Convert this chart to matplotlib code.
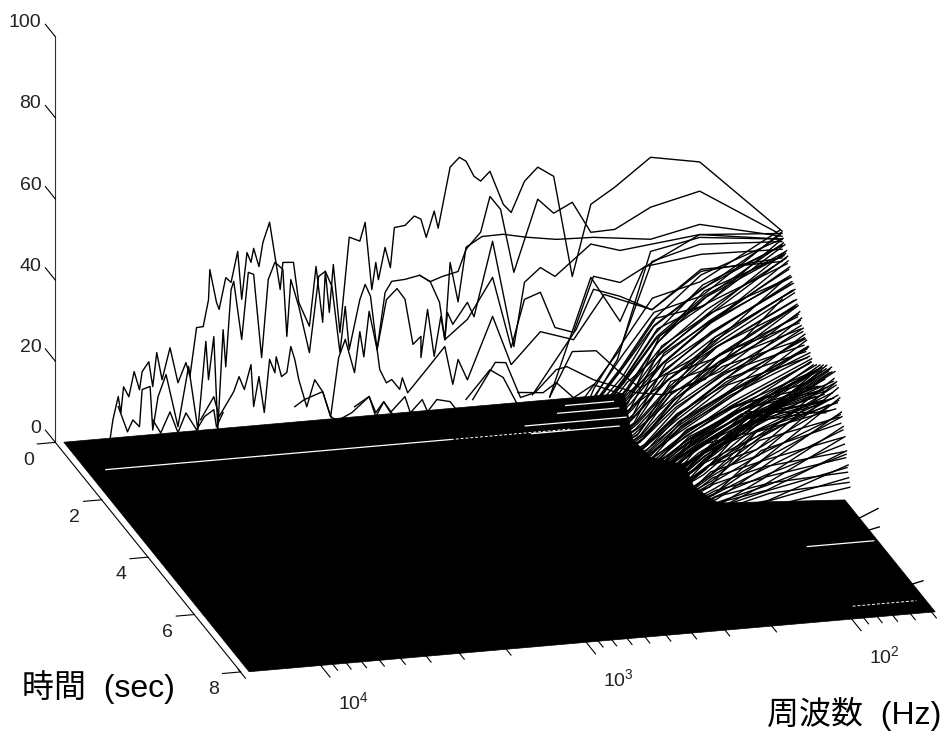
import numpy as np
import matplotlib
matplotlib.use('Agg')
import matplotlib.pyplot as plt
from mpl_toolkits.mplot3d import proj3d
from mpl_toolkits.mplot3d.art3d import Poly3DCollection

plt.rcParams['font.family'] = ['Liberation Sans', 'Noto Sans CJK JP']
plt.rcParams['mathtext.default'] = 'regular'

# axis ranges and ticks
time_ticks = [0, 2, 4, 6, 8]
level_ticks = [0, 20, 40, 60, 80, 100]
major_freqs = [100, 1000, 10000]
minor_freqs = [50, 60, 70, 80, 90, 200, 300, 400, 500, 600, 700, 800, 900,
               2000, 3000, 4000, 5000, 6000, 7000, 8000, 9000, 20000]

# outline of the solid floor (log10 freq, sec)
floor_logf = [4.27, 2.16, 2.26, 2.25, 2.15, 2.18, 2.14, 1.686, 1.686, 4.27]
floor_time = [0, 0, 1.51, 2.15, 2.5, 3.25, 3.84, 4.1, 8, 8]

# gaps in the floor (sec, log10 freq from, log10 freq to)
gap_time = [1.03, 1.03, 0.48, 0.8, 1.07, 0.25, 5.53]
gap_from = [4.20, 3.60, 2.45, 2.60, 2.60, 2.40, 1.95]
gap_to = [3.60, 2.90, 2.22, 2.22, 2.27, 2.22, 1.70]
dotted_gap_time = [7.6, 1.03]
dotted_gap_from = [1.96, 2.90]
dotted_gap_to = [1.72, 2.45]

# loud slices near the onset
curve_time = 1.34
curve_a_logf = [4.21, 4.20, 4.18, 4.17, 4.16, 4.14, 4.12, 4.10, 4.09, 4.065, 4.05, 4.035, 4.015, 3.985, 3.955, 3.925,
                3.91, 3.885, 3.86, 3.84, 3.835, 3.81, 3.80, 3.775, 3.755, 3.73, 3.715, 3.695, 3.68, 3.67, 3.65, 3.635,
                3.61, 3.57, 3.56, 3.52, 3.50, 3.46, 3.435, 3.41, 3.40, 3.385, 3.37, 3.345, 3.31, 3.27, 3.25, 3.225,
                3.21, 3.20, 3.175, 3.155, 3.14, 3.10, 3.065, 3.04, 3.02, 2.99, 2.975, 2.93, 2.895, 2.87, 2.84, 2.815,
                2.78, 2.73, 2.70, 2.65, 2.60, 2.54, 2.47, 2.40, 2.31, 2.175, 1.99, 1.68]
curve_a_level = [10.1, 14.5, 20.1, 16, 22.4, 19.8, 25.9, 21.3, 25.7, 28, 21.8, 30.1, 23.3, 31, 22.2, 27,
                 23.5, 35.4, 35.5, 42, 49.4, 41.2, 39.4, 47.1, 45.8, 53.3, 41.4, 52.8, 50.3, 53.7, 49.1, 55,
                 59.8, 43, 49.6, 49.4, 39.4, 33.3, 47.9, 34, 46.5, 36.3, 48, 31.1, 54.4, 53.2, 57.7, 41,
                 47.6, 43.3, 51.1, 46, 55.8, 56.1, 58.2, 57.3, 52.7, 59, 54.7, 69.5, 71.7, 70.6, 66.7, 65.4,
                 67.6, 59.2, 57, 64.4, 67.6, 65, 39.9, 57.3, 61, 67.6, 65.4, 46.6]

curve_b_logf = [4.18, 4.145, 4.125, 4.10, 4.09, 4.06, 4.05, 4.03, 4.00, 3.955, 3.915, 3.88, 3.85, 3.84, 3.82, 3.805,
                3.785, 3.775, 3.755, 3.745, 3.715, 3.69, 3.67, 3.64, 3.615, 3.59, 3.56, 3.545, 3.53, 3.50, 3.46, 3.425,
                3.40, 3.375, 3.345, 3.325, 3.31, 3.27, 3.25, 3.23, 3.205, 3.175, 3.15, 3.10, 3.045, 3.005, 2.97, 2.95,
                2.93, 2.90, 2.87, 2.81, 2.73, 2.645, 2.53, 2.39, 2.175, 1.99, 1.68]
curve_b_level = [17.6, 11.2, 14, 12.2, 21.3, 21.9, 11.1, 19.2, 24.5, 11.4, 26, 10.2, 31.8, 22.3, 32.8, 9.8,
                 34.3, 25.1, 44, 46, 31.5, 47.9, 47.3, 26.6, 45.7, 49.8, 47.9, 31.3, 45.2, 38.4, 26.8, 45.4,
                 46.5, 42.6, 26.2, 37.4, 26.7, 38.8, 42.4, 39.4, 26.1, 40, 42.6, 42.8, 43.5, 41.7, 36.4, 27.1,
                 46, 36.1, 49.4, 51.7, 51.8, 50.6, 49.4, 49.1, 47.4, 50, 45.3]

curve_c_logf = [3.205, 3.17, 3.13, 3.10, 3.07, 3.04, 3.04, 3.015, 2.99, 2.965, 2.95, 2.94, 2.92, 2.865, 2.84, 2.77,
                2.69, 2.65, 2.59, 2.535, 2.40, 2.29, 1.99, 1.68]
curve_c_level = [26.1, 38.2, 40.7, 37.9, 26.6, 28.4, 23.2, 34.9, 23.2, 32.9, 27.1, 33.7, 30.7, 35.8, 32.1, 50.3,
                 23.9, 39.5, 42.8, 40.3, 47.5, 45.3, 47.5, 46]

curve_d_logf = [3.045, 3.005, 2.96, 2.90, 2.87, 2.815, 2.78, 2.74, 2.69, 2.60, 2.54, 2.47, 2.40, 2.31, 2.175, 1.99, 1.70]
curve_d_level = [43.5, 41.7, 42.7, 43.6, 48.9, 52.8, 61.4, 58, 42.2, 59.7, 55.9, 58.2, 50.4, 50.6, 55.3, 58.2, 46.4]

curve_e_logf = [2.95, 2.865, 2.77, 2.70, 2.65, 2.59, 2.535, 2.465, 2.39, 2.29, 2.195, 1.985, 1.68]
curve_e_level = [27.1, 31.6, 41.4, 23.7, 35.3, 36.7, 27.7, 26.1, 39.5, 37.4, 40.8, 42.6, 42.1]

curve_f_logf = [3.38, 3.35, 3.325, 3.29, 3.27, 3.255, 3.235, 3.205, 3.195, 3.17, 3.15, 3.12, 3.11, 3.09, 3.01, 2.95, 2.92,
                2.90, 2.865, 2.77, 2.70, 2.59, 2.465, 2.35, 2.17, 1.985, 1.68]
curve_f_level = [10.6, 24.9, 29.3, 20.9, 30.9, 24.6, 35.7, 26.1, 21.1, 17.7, 18.4, 15.8, 18.6, 14.8, 20.8, 25.4, 15.9,
                 21.9, 16.7, 31.8, 19.5, 27, 24.3, 34.8, 30, 38.9, 39.1]

curve_g_logf = [2.845, 2.76, 2.72, 2.665, 2.61, 2.53, 2.49, 2.39, 2.23, 2.125, 1.97, 1.68]
curve_g_level = [11.7, 20.4, 20.1, 11.2, 12.1, 17.3, 17.8, 14, 9.9, 8.8, 11.7, 29.8]

curve_h_logf = [2.555, 2.47, 2.38, 2.29, 2.215, 1.985, 1.67]
curve_h_level = [10.7, 21.4, 21.1, 15.2, 11, 17.9, 34.6]

curve_i_logf = [2.675, 2.58, 2.53, 2.465, 2.39, 2.28]
curve_i_level = [12.5, 11.9, 14.1, 10, 12.8, 9.7]

curve_j_logf = [2.87, 2.81, 2.78, 2.73, 2.68]
curve_j_level = [11.9, 16.4, 18.7, 16.5, 10]

curve_k_logf = [3.87, 3.82, 3.80, 3.745, 3.725, 3.705, 3.68, 3.67, 3.65, 3.63, 3.61, 3.59, 3.585, 3.565, 3.545, 3.53,
                3.515, 3.50, 3.47, 3.44, 3.41, 3.38]
curve_k_level = [12.6, 18, 13, 18.8, 22.4, 19.1, 25.1, 14.7, 22, 13, 26, 22.6, 26.5, 21.5, 22.4, 28.7,
                 25.4, 20.4, 13.5, 20, 16.9, 10.6]

curve_l_logf = [3.29, 3.235, 3.21, 3.18, 3.155, 3.10, 3.08, 3.035, 3.015, 2.98, 2.93, 2.90]
curve_l_level = [12.5, 14.7, 9.6, 13.1, 10.3, 13.9, 9.8, 12.8, 9.7, 12.5, 11.7, 9]

curve_m_logf = [4.05, 4.02, 3.985, 3.955, 3.925, 3.885, 3.855, 3.82, 3.81, 3.785]
curve_m_level = [13.6, 10.2, 15.2, 9.9, 14.6, 10.2, 13.3, 14.8, 10.5, 13.9]

curve_n_logf = [3.515, 3.48, 3.41, 3.38, 3.355, 3.30, 3.235, 3.21, 3.18, 3.15]
curve_n_level = [13.8, 15.3, 16.9, 10.6, 9.4, 11.1, 14.7, 10.6, 13.1, 10.2]

curve_w_logf = [2.555, 2.40, 2.29, 2.20, 1.99, 1.68]
curve_w_level = [10.7, 39.3, 27.8, 40.6, 47.5, 44.6]

curve_x_logf = [2.62, 2.455, 2.39, 2.29, 2.17, 1.985, 1.68]
curve_x_level = [11.6, 26.8, 36.3, 34, 30, 38.4, 40]

curve_y_logf = [2.39, 2.30, 2.175, 1.99, 1.68]
curve_y_level = [9.1, 18.5, 44.4, 46.8, 44.6]

curve_z_logf = [2.43, 2.29, 2.17, 1.99, 1.68]
curve_z_level = [9.3, 20.9, 41.9, 45.1, 44]

# lowest frequency bins, used by the short slices in the dense part
low_bins = [1.69, 1.99, 2.17, 2.29, 2.39, 2.47]
slice_times = [1.36, 1.40, 1.43, 1.47, 1.50, 1.54, 1.58, 1.61, 1.65, 1.68, 1.72, 1.76, 1.79, 1.83, 1.86, 1.90, 1.94, 1.97, 2.01, 2.04,
               2.08, 2.12, 2.15, 2.19, 2.22, 2.26, 2.30, 2.33, 2.37, 2.40, 2.44, 2.48, 2.51, 2.55, 2.58, 2.62, 2.66, 2.69, 2.73, 2.76,
               2.80, 2.84, 2.87, 2.91, 2.94, 2.98, 3.02, 3.05, 3.09, 3.12, 3.16, 3.20, 3.23, 3.27, 3.30, 3.34, 3.38, 3.41, 3.45, 3.48,
               3.52, 3.56, 3.59, 3.63, 3.66, 3.70, 3.74, 3.77, 3.81, 3.84, 3.88, 3.92, 3.95, 3.99, 4.02, 4.06, 4.10, 4.13, 4.17, 4.20,
               4.24, 4.28, 4.31, 4.35, 4.38]
bin1_level = [47, 45, 47, 44, 46, 42, 45, 43, 44, 41, 42, 38, 41, 37, 39, 36, 38, 34, 37, 33,
              35, 31, 34, 30, 33, 29, 32, 27, 30, 26, 29, 25, 28, 24, 27, 23, 26, 24, 25, 22,
              24, 19, 23, 17, 25, 20, 24, 16, 26, 21, 25, 18, 27, 20, 24, 16, 28, 22, 27, 19,
              28, 21, 29, 23, 26, 27, 29, 20, 27, 22, 26, 19, 24, 18, 21, 15, 18, 12, 16, 11,
              13, 8, 10, 6, 5]
bin2_level = [36, 38, 33, 36, 31, 35, 32, 34, 30, 33, 28, 31, 29, 27, 30, 25, 28, 24, 27, 22,
              25, 23, 21, 24, 20, 23, 18, 22, 19, 21, 16, 20, 15, 19, 17, 14, 18, 13, 16, 15,
              12, 16, 14, 11, 15, 13, 16, 12, 14, 17, 13, 15, 12, 16, 14, 18, 13, 17, 15, 12,
              18, 14, 17, 15, 19, 13, 18, 16, 12, 17, 11, 15, 10, 13, 9, 11, 7, 10, 6, 8,
              5, 7, 3, 5, 2]
bin3_level = [33, 28, 30, 25, 29, 23, 27, 24, 21, 26, 19, 24, 20, 18, 23, 16, 21, 17, 14, 19,
              15, 13, 18, 12, 16, 14, 10, 15, 11, 13, 9, 12, 8, 11, 10, 7, 12, 6, 9, 10,
              7, 11, 8, 6, 10, 7, 9, 5, 8, 11, 6, 9, 7, 10, 5, 8, 11, 6, 9, 7,
              10, 5, 9, 11, 7, 8, 10, 6, 9, 4, 8, 6, 7, 3, 6, 4, 5, 3, 4, 2,
              3, 2, 1.5, 2, 1]
bin4_level = [22, 17, 20, 14, 18, 11, 16, 13, 15, 10, 13, 9, 12, 10, 8, 11, 7, 9, 6, 8,
              5, 7, 6, 4, 6, 5, 3, 6, 4, 5, 2.5, 4, 3, 5, 2, 3, 4, 1.5, 3, 2,
              1.5, 3, 2, 1, 3, 2, 1, 2.5, 1.5, 3, 1, 2, 1.5, 2.5, 1, 3, 2, 1, 2.5, 1.5,
              3, 1, 2, 4, 1.5, 3, 2.5, 1, 3, 2, 1, 2.5, 1.5, 1, 2, 1, 1.5, 1, 1, 0.5,
              1, 0.5, 0.5, 0.5, 0.5]
bin5_level = [12, 9, 11, 7, 10, 5, 8, 6, 7, 4, 6, 4, 5, 3, 4, 5, 3, 3.5, 2, 3,
              2, 3, 2, 1, 2, 1.5, 1, 2, 1, 1.5, 1, 1, 0.5, 1.5, 1, 1, 1, 0.5, 1, 0.5,
              0.5, 1, 0.5, 0.5, 1, 0.5, 0.5, 1, 0.5, 1, 0.5, 0.5, 0.5, 1, 0.5, 1, 0.5, 0.5, 1, 0.5,
              1, 0.5, 0.5, 1, 0.5, 1, 0.5, 0.5, 1, 0.5, 0.5, 0.5, 0.5, 0.5, 0.5, 0.5, 0.5, 0.5, 0.5, 0.5,
              0.5, 0.5, 0.5, 0.5, 0.5]

# more slices in between
slice2_times = [1.38, 1.45, 1.52, 1.56, 1.63, 1.70, 1.74, 1.81, 1.88, 1.92, 1.99, 2.06, 2.10, 2.17, 2.24, 2.28, 2.35, 2.42, 2.46, 2.53,
                2.60, 2.64, 2.71, 2.78, 2.82, 2.89, 2.96, 3.00, 3.07, 3.14, 3.18, 3.25, 3.32, 3.36, 3.43, 3.50, 3.54, 3.61, 3.68, 3.72,
                3.79, 3.86, 3.90, 3.97, 4.04, 4.08, 4.15, 4.22, 4.26, 4.33]
slice2_bin1 = [46, 44, 45, 43, 42, 43, 40, 39, 38, 36, 36, 33, 34, 32, 31, 30, 29, 28, 28, 26,
               27, 25, 24, 20, 22, 18, 24, 20, 25, 17, 26, 21, 19, 27, 23, 27, 18, 28, 22, 26,
               26, 24, 23, 20, 20, 17, 14, 12, 9, 7]
slice2_bin2 = [34, 35, 33, 34, 31, 30, 29, 29, 27, 26, 25, 25, 23, 22, 22, 20, 20, 18, 19, 17,
               16, 17, 15, 15, 14, 15, 15, 14, 15, 16, 15, 16, 16, 15, 17, 16, 17, 16, 18, 17,
               15, 15, 13, 12, 11, 9, 8, 6, 5, 3]
slice2_bin3 = [26, 27, 24, 25, 22, 22, 21, 20, 19, 18, 17, 16, 16, 15, 14, 13, 13, 12, 11, 11,
               10, 10, 9, 9, 8, 9, 8, 8, 9, 9, 8, 9, 10, 9, 9, 10, 9, 10, 10, 8,
               9, 7, 7, 6, 5, 4, 4, 3, 2, 1.5]
slice2_bin4 = [16, 15, 14, 15, 13, 12, 12, 11, 10, 9, 9, 8, 8, 7, 6, 6, 6, 5, 5, 4,
               4, 4, 3.5, 3, 3, 3.5, 3, 3, 3, 4, 3, 3.5, 4, 3, 3.5, 4, 3, 4, 3.5, 3,
               3, 2.5, 2, 2, 1.5, 1.5, 1, 1, 0.5, 0.5]
slice2_bin5 = [8, 8, 7, 7, 6, 6, 5, 5, 4, 4, 3, 3, 3, 2, 2, 2, 2, 1.5, 1.5, 1,
               1, 1, 1, 1, 1, 1, 1, 1, 1, 1, 1, 1, 1, 1, 1, 1, 1, 1, 1, 1,
               1, 1, 0.5, 0.5, 0.5, 0.5, 0.5, 0.5, 0.5, 0.5]

# the few slices that still stick out past the floor edge
late_times = [5.6, 5.65, 7.54]
late_levels = [8.4, 4.2, 4.3]

LF_MAX = 4.30
LF_MIN = 1.686
TEXT_COLOR = '#222222'

fig = plt.figure(figsize=(9.46, 7.33), dpi=100)
ax = fig.add_axes([-18.5 / 946, -104.5 / 733, 1000 / 946, 1000 / 733], projection='3d')
ax.set_proj_type('ortho')
ax.view_init(elev=19.2, azim=-14.87)
ax.set_box_aspect((721, 717, 429), zoom=1.073)
ax.set_xlim(0, 8)
ax.set_ylim(LF_MAX, LF_MIN)
ax.set_zlim(0, 100)
ax.set_axis_off()
ax.computed_zorder = False


def label(t, lf, z, s, ha='center'):
    # put the label where the 3d point lands on the 2d axes
    x2, y2, _ = proj3d.proj_transform(t, lf, z, ax.get_proj())
    ax.text2D(x2, y2, s, transform=ax.transData, fontsize=14, ha=ha, va='center', color=TEXT_COLOR)


# floor
floor = [list(zip(floor_time, floor_logf, np.zeros(len(floor_time))))]
ax.add_collection3d(Poly3DCollection(floor, facecolor='k', edgecolor='k', linewidth=0.5, zorder=1))

# slices
curves = [(curve_a_logf, curve_a_level), (curve_b_logf, curve_b_level), (curve_c_logf, curve_c_level),
          (curve_d_logf, curve_d_level), (curve_e_logf, curve_e_level), (curve_f_logf, curve_f_level),
          (curve_g_logf, curve_g_level), (curve_h_logf, curve_h_level), (curve_i_logf, curve_i_level),
          (curve_j_logf, curve_j_level), (curve_k_logf, curve_k_level), (curve_l_logf, curve_l_level),
          (curve_m_logf, curve_m_level), (curve_n_logf, curve_n_level), (curve_w_logf, curve_w_level),
          (curve_x_logf, curve_x_level), (curve_y_logf, curve_y_level), (curve_z_logf, curve_z_level)]
for logf, level in curves:
    ax.plot(np.full(len(logf), curve_time), logf, level, color='k', lw=1.0, zorder=2)

for i, t in enumerate(slice_times):
    level = [bin1_level[i], bin2_level[i], bin3_level[i], bin4_level[i], bin5_level[i], 0]
    ax.plot(np.full(len(low_bins), t), low_bins, level, color='k', lw=1.0, zorder=2)

for i, t in enumerate(slice2_times):
    level = [slice2_bin1[i], slice2_bin2[i], slice2_bin3[i], slice2_bin4[i], slice2_bin5[i], 0]
    ax.plot(np.full(len(low_bins), t), low_bins, level, color='k', lw=1.0, zorder=2)

for t, v in zip(late_times, late_levels):
    ax.plot([t, t], low_bins[:2], [v, 0], color='k', lw=1.0, zorder=2)

# white gaps
for t, a, b in zip(gap_time, gap_from, gap_to):
    ax.plot([t, t], [a, b], [0, 0], color='w', lw=0.9, zorder=3)
for t, a, b in zip(dotted_gap_time, dotted_gap_from, dotted_gap_to):
    ax.plot([t, t], [a, b], [0, 0], color='w', lw=0.7, ls=(0, (3, 2)), zorder=3)

# axes drawn by hand, matlab style
ax.plot([0, 0], [LF_MAX, LF_MAX], [0, 100], color='#333333', lw=0.8, zorder=4)
ax.plot([0, 8], [LF_MAX, LF_MAX], [0, 0], color='k', lw=0.8, zorder=4)

for v in level_ticks:
    ax.plot([0, -0.43], [LF_MAX, LF_MAX], [v, v], color='k', lw=0.8, zorder=4)
    label(-0.49, LF_MAX + 0.01, v, str(v), ha='right')

for t in time_ticks:
    ax.plot([t, t], [LF_MAX, LF_MAX + 0.068], [0, 0], color='k', lw=0.8, zorder=4)
    label(t + 0.5, LF_MAX + 0.145, 0, str(t))

for f in major_freqs:
    lf = np.log10(f)
    ax.plot([7.9, 8.42], [lf, lf], [0, 0], color='k', lw=0.8, zorder=4)
    label(9.3, lf - 0.01, 0, r'$10^{%d}$' % round(lf))
for f in minor_freqs:
    lf = np.log10(f)
    ax.plot([7.9, 8.22], [lf, lf], [0, 0], color='k', lw=0.8, zorder=4)

fig.text(22 / 946, 1 - 687 / 733, '時間  (sec)', fontsize=23, ha='left', va='center', color='k')
fig.text(767 / 946, 1 - 714 / 733, '周波数  (Hz)', fontsize=23, ha='left', va='center', color='k')

fig.savefig('out.png', dpi=100)
